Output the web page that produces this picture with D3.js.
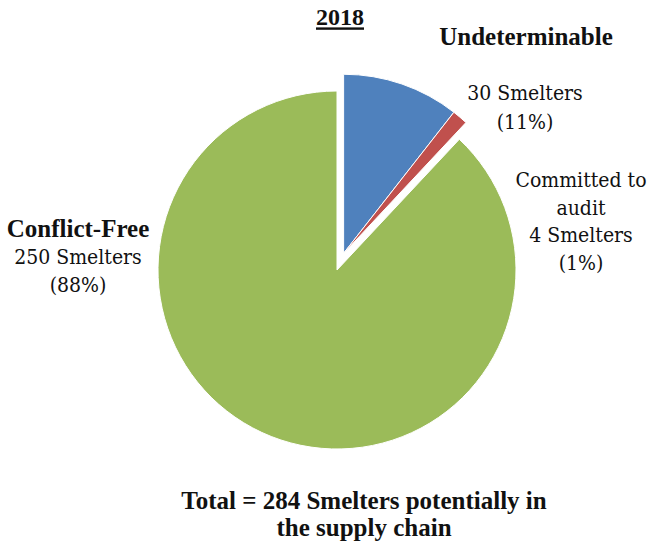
<!DOCTYPE html>
<html>
<head>
<meta charset="utf-8">
<script src="https://cdn.jsdelivr.net/npm/d3@7"></script>
<style>
  body { margin: 0; background: #fff; }
  text { fill: #111; }
</style>
</head>
<body>
<div id="pie"></div>
<script>
var categories = ["Undeterminable", "Committed to audit", "Conflict-Free"];
var values = [30, 4, 250];
var exploded = [true, true, false];
var title = "2018";
var totalLines = ["Total = 284 Smelters potentially in", "the supply chain"];

var width = 651;
var height = 541;
var radius = 179;
var cx = 337, cy = 270;
var explodeBy = 18;

var color = d3.scaleOrdinal()
  .domain(categories)
  .range(["#4F81BD", "#C0504D", "#9BBB59"]);

var data = categories.map(function (c, i) {
  return { name: c, value: values[i], out: exploded[i] };
});

var pie = d3.pie().value(d => d.value).sort(null);
var arcs = pie(data);

var arc = d3.arc().innerRadius(0).outerRadius(radius);

// exploded slices move together along their common bisector
var outArcs = arcs.filter(d => d.data.out);
var midAngle = (d3.min(outArcs, d => d.startAngle) + d3.max(outArcs, d => d.endAngle)) / 2;
var offX = Math.sin(midAngle) * explodeBy;
var offY = -Math.cos(midAngle) * explodeBy;

var svg = d3.select("#pie")
  .append("svg")
  .attr("width", width)
  .attr("height", height);

var g = svg.append("g")
  .attr("transform", "translate(" + cx + "," + cy + ")");

g.selectAll("path")
  .data(arcs)
  .enter()
  .append("path")
  .attr("d", arc)
  .attr("fill", d => color(d.data.name))
  .attr("stroke", "#fff")
  .attr("stroke-width", 1)
  .attr("transform", d => d.data.out ? "translate(" + offX + "," + offY + ")" : null);

var boldFont = "'Liberation Serif', 'DejaVu Serif', serif";
var plainFont = "'DejaVu Serif Condensed', 'DejaVu Serif', serif";

// title
svg.append("text")
  .attr("x", 340)
  .attr("y", 17)
  .attr("dy", "0.35em")
  .attr("text-anchor", "middle")
  .style("font-family", boldFont)
  .style("font-size", "24px")
  .style("font-weight", "bold")
  .style("text-decoration", "underline")
  .text(title);

function pct(v) {
  return Math.round(v / d3.sum(values) * 100) + "%";
}

// label blocks: [text, bold]
var labelBlocks = [
  { x: 526, y: 36, step: 29, lines: [["Undeterminable", true]] },
  { x: 525, y: 93, step: 29, lines: [[values[0] + " Smelters", false], ["(" + pct(values[0]) + ")", false]] },
  { x: 581, y: 180, step: 27.5, lines: [["Committed to", false], ["audit", false], [values[1] + " Smelters", false], ["(" + pct(values[1]) + ")", false]] },
  { x: 78, y: 228, step: 28.5, lines: [["Conflict-Free", true], [values[2] + " Smelters", false], ["(" + pct(values[2]) + ")", false]] },
  { x: 364, y: 500, step: 27, lines: totalLines.map(t => [t, true]) }
];

labelBlocks.forEach(function (b) {
  svg.selectAll(null)
    .data(b.lines)
    .enter()
    .append("text")
    .attr("x", b.x)
    .attr("y", (d, i) => b.y + i * b.step)
    .attr("dy", "0.35em")
    .attr("text-anchor", "middle")
    .style("font-family", d => d[1] ? boldFont : plainFont)
    .style("font-stretch", d => d[1] ? null : "condensed")
    .style("font-size", d => d[1] ? "25px" : "21px")
    .style("font-weight", d => d[1] ? "bold" : "normal")
    .text(d => d[0]);
});
</script>
</body>
</html>
